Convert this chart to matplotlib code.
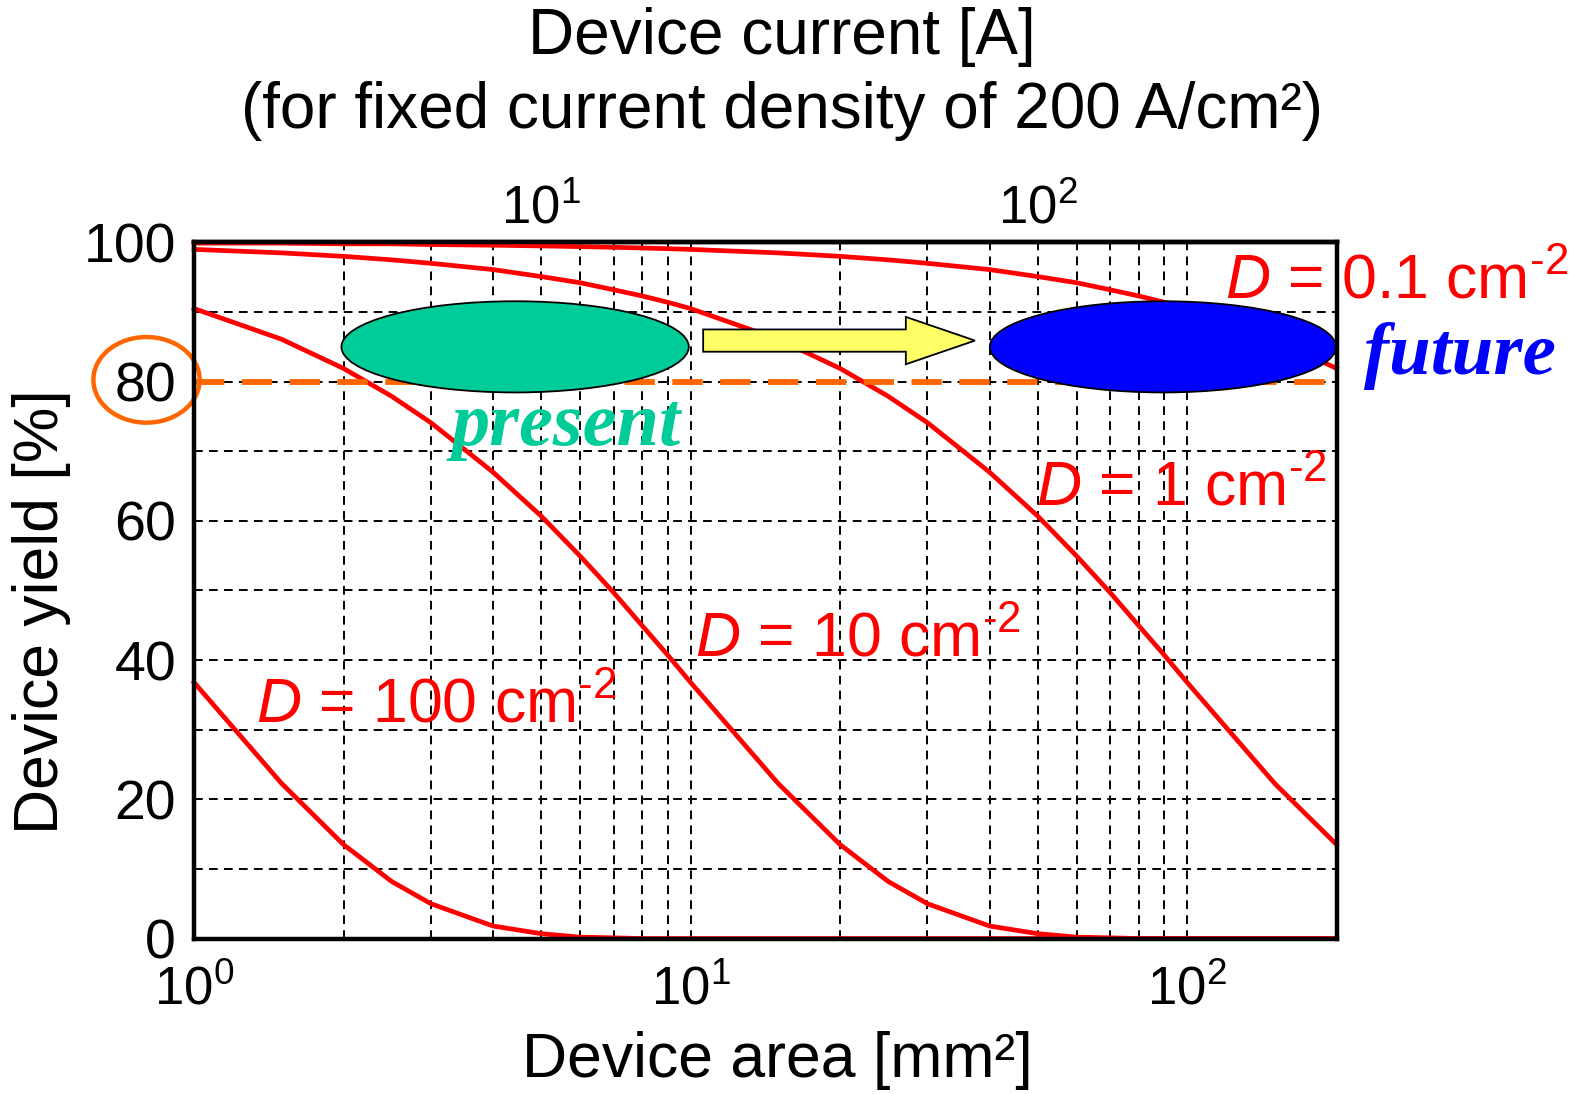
import numpy as np
import matplotlib
matplotlib.use("Agg")
import matplotlib.pyplot as plt
from matplotlib.patches import Ellipse, Polygon
from matplotlib.ticker import FixedLocator, MultipleLocator, NullLocator, LogLocator, NullFormatter

plt.rcParams['font.family'] = ['Liberation Sans', 'DejaVu Sans']
plt.rcParams['mathtext.fontset'] = 'custom'
plt.rcParams['mathtext.rm'] = 'Liberation Sans'
plt.rcParams['mathtext.it'] = 'Liberation Sans:italic'
plt.rcParams['mathtext.bf'] = 'Liberation Sans:bold'

# ---- data (device area in mm^2, yield in %) ----
area = [1, 1.5, 2, 2.5, 3, 4, 5, 6, 7, 8, 9, 10, 15, 20, 25, 30, 40, 50, 60, 70, 80, 90, 100, 150, 200]
yield_d01 = [99.9, 99.9, 99.8, 99.8, 99.7, 99.6, 99.5, 99.4, 99.3, 99.2, 99.1, 99.0, 98.5, 98.0, 97.5, 97.0,
             96.1, 95.1, 94.2, 93.2, 92.3, 91.4, 90.5, 86.1, 81.9]
yield_d1 = [99.0, 98.5, 98.0, 97.5, 97.0, 96.1, 95.1, 94.2, 93.2, 92.3, 91.4, 90.5, 86.1, 81.9, 77.9, 74.1,
            67.0, 60.7, 54.9, 49.7, 44.9, 40.7, 36.8, 22.3, 13.5]
yield_d10 = [90.5, 86.1, 81.9, 77.9, 74.1, 67.0, 60.7, 54.9, 49.7, 44.9, 40.7, 36.8, 22.3, 13.5, 8.2, 5.0,
             1.8, 0.7, 0.2, 0.1, 0.0, 0.0, 0.0, 0.0, 0.0]
yield_d100 = [36.8, 22.3, 13.5, 8.2, 5.0, 1.8, 0.7, 0.2, 0.1, 0.0, 0.0, 0.0, 0.0, 0.0, 0.0, 0.0,
              0.0, 0.0, 0.0, 0.0, 0.0, 0.0, 0.0, 0.0, 0.0]
target_yield = 80
bottom_ticks = [1, 10, 100]
bottom_labels = [r'$\mathregular{10^{0}}$', r'$\mathregular{10^{1}}$', r'$\mathregular{10^{2}}$']
top_ticks = [10, 100]
top_labels = [r'$\mathregular{10^{1}}$', r'$\mathregular{10^{2}}$']
y_ticks = [0, 20, 40, 60, 80, 100]

RED = '#ff0000'
ORANGE = '#ff6600'
GREEN = '#00cc99'
BLUE = '#0000ff'
YELLOW = '#ffff66'

fig = plt.figure(figsize=(15.84, 10.94), dpi=100)
ax = fig.add_axes([0.1225, 0.1421, 0.7213, 0.6363])

ax.set_xscale('log')
ax.set_xlim(1, 200)
ax.set_ylim(0, 100)

for yv in (yield_d01, yield_d1, yield_d10, yield_d100):
    ax.plot(area, yv, color=RED, lw=3.4, zorder=3, clip_on=False)

ax.plot([1, 200], [target_yield, target_yield], color=ORANGE, lw=4.2,
        linestyle=(0, (5.2, 3.0)), zorder=4)

# grid
ax.xaxis.set_major_locator(FixedLocator(bottom_ticks))
ax.xaxis.set_minor_locator(LogLocator(base=10, subs=np.arange(2, 10)))
ax.xaxis.set_minor_formatter(NullFormatter())
ax.set_xticklabels(bottom_labels)
ax.yaxis.set_major_locator(FixedLocator(y_ticks))
ax.yaxis.set_minor_locator(MultipleLocator(10))
ax.grid(which='both', color='black', lw=1.4, linestyle=(0, (4.5, 3.2)), zorder=1)
ax.set_axisbelow(True)
ax.tick_params(which='both', length=0)
ax.tick_params(axis='x', pad=19, labelsize=38)
ax.tick_params(axis='y', pad=13, labelsize=40)
for s in ax.spines.values():
    s.set_linewidth(3.2)
    s.set_color('black')
    s.set_zorder(6)

# top axis: device current at 200 A/cm^2 (2 A/mm^2)
secax = ax.secondary_xaxis('top', functions=(lambda a: 2 * np.asarray(a), lambda i: np.asarray(i) / 2))
secax.xaxis.set_major_locator(FixedLocator(top_ticks))
secax.xaxis.set_minor_locator(NullLocator())
secax.set_xticklabels(top_labels)
secax.tick_params(length=0, labelsize=38, pad=6)
secax.spines['top'].set_linewidth(3.2)

# ellipses and arrow
tA = ax.transAxes
ax.add_patch(Ellipse((0.281, 0.850), 0.304, 0.131, transform=tA, facecolor=GREEN,
                     edgecolor='black', lw=1.3, zorder=5))
ax.add_patch(Ellipse((0.848, 0.850), 0.303, 0.131, transform=tA, facecolor=BLUE,
                     edgecolor='black', lw=1.3, zorder=5, clip_on=False))
x0, xh, x1, yc, bh, hh = 0.4456, 0.623, 0.6835, 0.859, 0.016, 0.034
ax.add_patch(Polygon([(x0, yc - bh), (xh, yc - bh), (xh, yc - hh), (x1, yc),
                      (xh, yc + hh), (xh, yc + bh), (x0, yc + bh)], closed=True,
                     transform=tA, facecolor=YELLOW, edgecolor='black', lw=1.3, zorder=5))

# circle around 80
ax.add_patch(Ellipse((-0.0416, 0.8026), 0.093, 0.123, transform=tA, facecolor='none',
                     edgecolor=ORANGE, lw=3.2, clip_on=False, zorder=6))

# curve labels
SUP = '$^{\\mathregular{\u20102}}$'
lab_kw = dict(transform=tA, color=RED, fontsize=45, va='baseline', ha='left', zorder=7, clip_on=False)
ax.text(0.902, 0.920, r'$D$ = 0.1 cm' + SUP, **lab_kw)
ax.text(0.7365, 0.6226, r'$D$ = 1 cm' + SUP, **lab_kw)
ax.text(0.4385, 0.405, r'$D$ = 10 cm' + SUP, **lab_kw)
ax.text(0.054, 0.3106, r'$D$ = 100 cm' + SUP, **lab_kw)

ax.text(0.2255, 0.7097, 'present', transform=tA, color=GREEN, fontsize=55,
        family='Liberation Serif', style='italic', weight='bold', va='baseline', ha='left', zorder=7)
ax.text(1.024, 0.811, 'future', transform=tA, color=BLUE, fontsize=54,
        family='Liberation Serif', style='italic', weight='bold', va='baseline', ha='left',
        zorder=7, clip_on=False)

# axis titles
fig.text(0.4937, 0.9658, 'Device current [A]', fontsize=46, ha='center', va='center')
fig.text(0.4937, 0.8985, '(for fixed current density of 200 A/cm\u00b2)', fontsize=46, ha='center', va='center')
fig.text(0.491, 0.031, 'Device area [mm\u00b2]', fontsize=45, ha='center', va='center')
fig.text(0.0265, 0.4406, 'Device yield [%]', fontsize=45, ha='center', va='center', rotation=90)

fig.savefig('out.png', dpi=100)
